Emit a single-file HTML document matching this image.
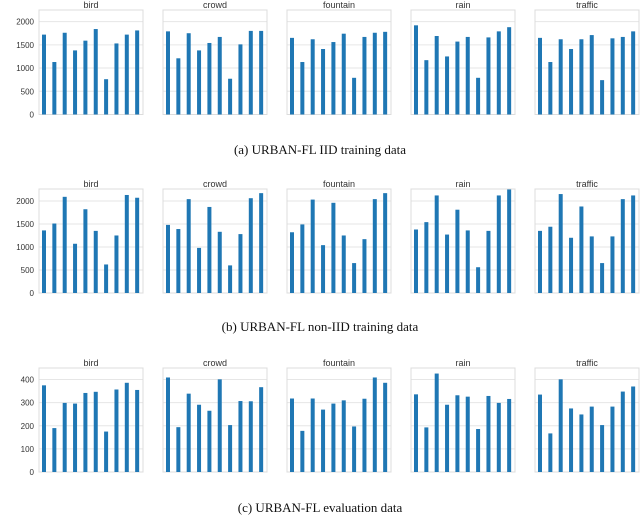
<!DOCTYPE html>
<html><head><meta charset="utf-8"><style>
body{margin:0;background:#fff;width:640px;height:528px;overflow:hidden}
svg{display:block}
</style></head><body>
<svg id="fig" width="640" height="528" font-family="Liberation Sans, sans-serif"></svg>
<script>
const classes = ["bird","crowd","fountain","rain","traffic"];
const iidValues = [
 [1720,1130,1760,1380,1590,1840,760,1530,1720,1810],
 [1790,1210,1750,1380,1540,1670,770,1510,1800,1800],
 [1650,1130,1620,1410,1560,1740,790,1670,1760,1780],
 [1920,1170,1690,1250,1570,1670,790,1660,1790,1880],
 [1650,1130,1620,1410,1620,1710,740,1640,1670,1790]];
const nonIidValues = [
 [1360,1510,2090,1070,1820,1350,620,1250,2130,2070],
 [1480,1390,2040,980,1870,1330,600,1280,2060,2170],
 [1320,1490,2030,1040,1960,1250,650,1170,2040,2170],
 [1380,1540,2120,1270,1810,1360,560,1350,2120,2250],
 [1350,1440,2150,1200,1880,1230,650,1230,2040,2120]];
const evalValues = [
 [375,190,299,296,342,347,175,357,386,355],
 [409,194,339,291,265,401,203,307,306,367],
 [318,178,318,270,296,310,197,317,409,386],
 [336,193,426,291,332,326,186,329,299,316],
 [335,167,401,275,249,283,203,283,348,370]];
const trainTicks = [0,500,1000,1500,2000];
const evalTicks = [0,100,200,300,400];
const captions = ["(a) URBAN-FL IID training data","(b) URBAN-FL non-IID training data","(c) URBAN-FL evaluation data"];

const NS="http://www.w3.org/2000/svg";
const svg=document.getElementById('fig');
function el(tag,attrs,parent){const e=document.createElementNS(NS,tag);for(const k in attrs)e.setAttribute(k,attrs[k]);(parent||svg).appendChild(e);return e;}

const rows=[
 {vals:iidValues,ticks:trainTicks,max:2250,top:10,bottom:114.5,title:4,cap:154,name:'iid'},
 {vals:nonIidValues,ticks:trainTicks,max:2260,top:189,bottom:293,title:183,cap:331,name:'non-iid'},
 {vals:evalValues,ticks:evalTicks,max:450,top:368,bottom:472,title:362,cap:512,name:'eval'}];
const panelX=[39,163,287,411,535], panelW=104;

rows.forEach((r,ri)=>{
 const y=v=>r.bottom-(v/r.max)*(r.bottom-r.top);
 const g=el('g',{});
 
 
 classes.forEach((c,ci)=>{
  const px=panelX[ci];
  const pg=el('g',{},g);
  
  
  r.ticks.forEach(t=>{
   const ln=el('line',{x1:px,x2:px+panelW,y1:y(t),y2:y(t),stroke:'#e6e6e6','stroke-width':1},pg);
   
   
   if(ci===0){
    const tl=el('text',{x:px-5,y:y(t)+3,'font-size':8,fill:'#333','text-anchor':'end'},pg);
    tl.textContent=t;
    
    
   }
  });
  const fr=el('rect',{x:px,y:r.top,width:panelW,height:r.bottom-r.top,fill:'none',stroke:'#dcdcdc','stroke-width':1},pg);
  
  
  r.vals[ci].forEach((v,i)=>{
   const cx=px+5+i*10.35;
   const b=el('rect',{x:cx-2,y:y(v),width:4,height:r.bottom-y(v),fill:'#1f77b4'},pg);
   
   
  });
  const tt=el('text',{x:px+panelW/2,y:r.title+4,'font-size':9,fill:'#333','text-anchor':'middle'},pg);
  tt.textContent=c;
  
  
 });
 const cap=el('text',{x:320,y:r.cap,'font-size':13,fill:'#111','text-anchor':'middle','font-family':'Liberation Serif, serif'});
 cap.textContent=captions[ri];
 
 
});
</script>
</body></html>
